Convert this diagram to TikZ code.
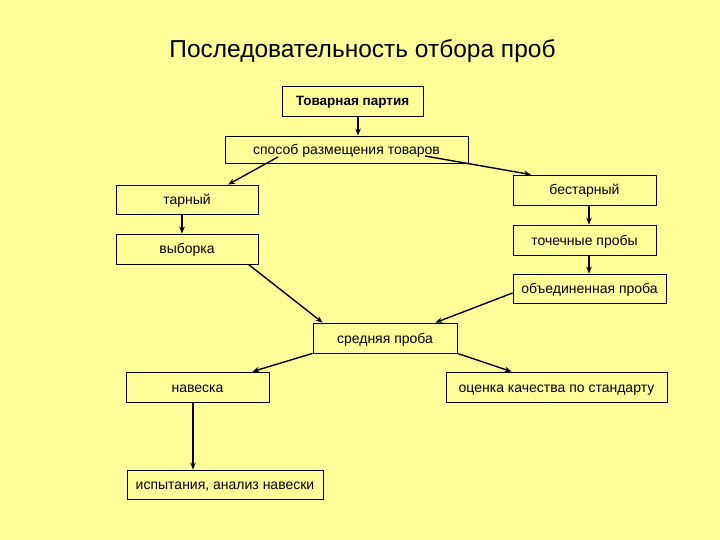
\documentclass[tikz,border=0pt]{standalone}
\usepackage{fontspec}
\setmainfont{Liberation Sans}
\usetikzlibrary{positioning, arrows.meta}
\definecolor{slideyellow}{HTML}{FFFF99}

\begin{document}
\begin{tikzpicture}[x=1pt, y=-1pt, on grid,
    box/.style={rectangle, draw=black, line width=0.8pt, inner sep=0pt, minimum height=30pt, text height=11pt, text depth=1pt, font=\fontsize{14}{16}\selectfont},
    link/.style={line width=1.4pt, -{Stealth[length=7pt, width=5.5pt]}}]
      \fill[slideyellow] (0,0) rectangle (720,540);
      \node[font=\fontsize{24.5}{28}\selectfont, anchor=base, inner sep=0pt] (title) at (362.5,58) {Последовательность отбора проб};

      \node[box, minimum width=141pt, font=\bfseries\fontsize{13.5}{16}\selectfont] (partiya) at (352.5,101) {Товарная партия};
      \node[box, minimum width=243pt, minimum height=27pt, below left=48.5pt and 6pt of partiya] (sposob) {способ размещения товаров};
      \node[box, minimum width=142pt, minimum height=29pt, below left=50pt and 159.5pt of sposob] (tarny) {тарный};
      \node[box, minimum width=142pt, below=49.5pt of tarny] (vyborka) {выборка};
      \node[box, minimum width=143pt, below right=40.5pt and 238pt of sposob] (bestarny) {бестарный};
      \node[box, minimum width=143pt, below=50pt of bestarny] (tochech) {точечные пробы};
      \node[box, minimum width=153pt, minimum height=29pt, below right=48.5pt and 5pt of tochech] (obyed) {объединенная проба};
      \node[box, minimum width=144pt, below right=188.5pt and 38.5pt of sposob] (srednyaya) {средняя проба};
      \node[box, minimum width=143pt, below left=49pt and 187.5pt of srednyaya] (naveska) {навеска};
      \node[box, minimum width=221pt, below right=49pt and 171.5pt of srednyaya] (ocenka) {оценка качества по стандарту};
      \node[box, minimum width=196pt, minimum height=29pt, below right=97.5pt and 27.5pt of naveska] (ispyt) {испытания, анализ навески};

      \draw[link] ([xshift=5.5pt]partiya.south) -- ([xshift=5.5pt]partiya.south |- sposob.north);
      \draw[link] ([shift={(-68.5pt,-7.5pt)}]sposob.center) -- ([xshift=41pt]tarny.north);
      \draw[link] ([shift={(78.5pt,-6.5pt)}]sposob.center) -- ([xshift=-53.5pt]bestarny.north);
      \draw[link] ([xshift=-5pt]tarny.south) -- ([xshift=-5pt]vyborka.north);
      \draw[link] ([xshift=4.5pt]bestarny.south) -- ([xshift=4.5pt]tochech.north);
      \draw[link] ([xshift=4.5pt]tochech.south) -- ([xshift=4.5pt]tochech.south |- obyed.north);
      \draw[link] ([xshift=-10pt]vyborka.south east) -- ([xshift=10pt]srednyaya.north west);
      \draw[link] ([yshift=-4.5pt]obyed.west) -- ([xshift=-22pt]srednyaya.north east);
      \draw[link] (srednyaya.south west) -- ([xshift=-17pt]naveska.north east);
      \draw[link] (srednyaya.south east) -- ([xshift=66pt]ocenka.north west);
      \draw[link] ([xshift=-4.5pt]naveska.south) -- ([xshift=-4.5pt]naveska.south |- ispyt.north);
    \end{tikzpicture}
\end{document}
